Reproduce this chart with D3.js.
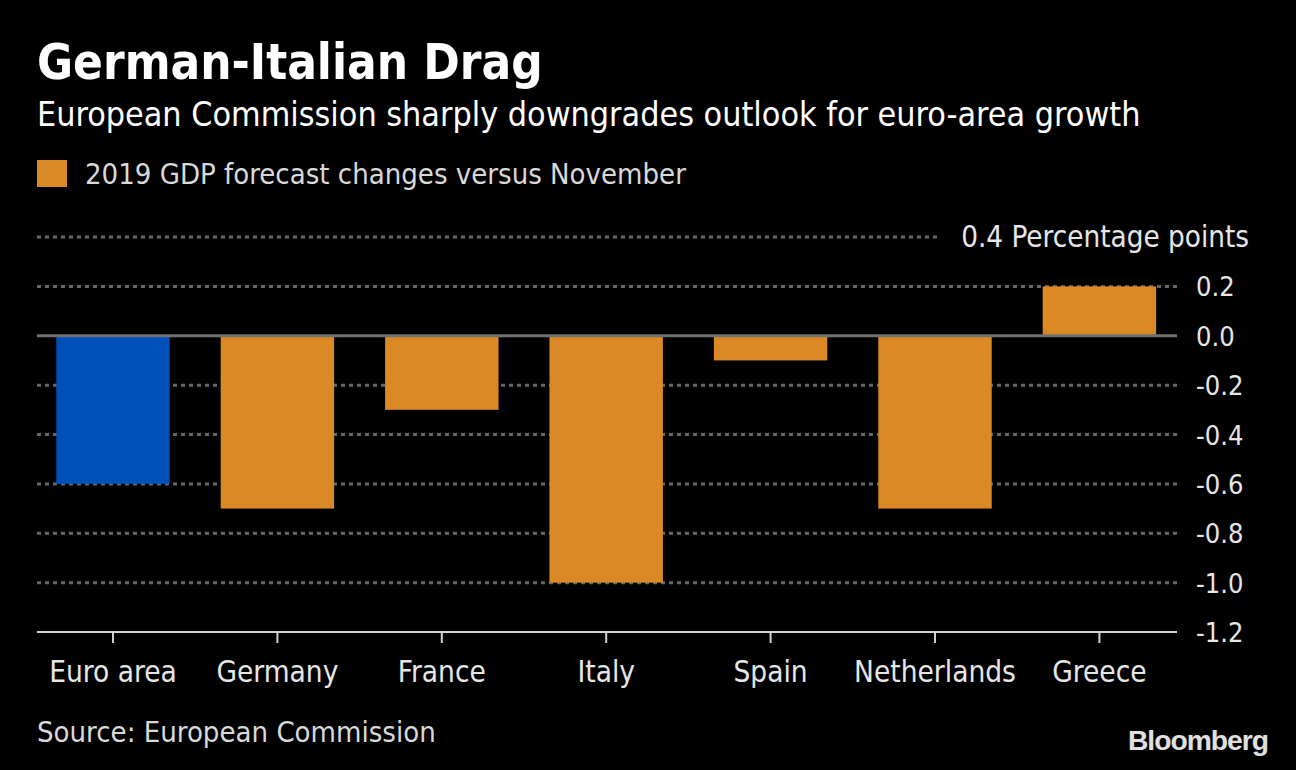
<!DOCTYPE html>
<html><head><meta charset="utf-8">
<script src="https://cdn.jsdelivr.net/npm/d3@7"></script>
<style>html,body{margin:0;padding:0;background:#000;}svg{display:block;}</style>
</head><body>
<svg id="c" width="1296" height="770"></svg>
<script>
const categories = ["Euro area","Germany","France","Italy","Spain","Netherlands","Greece"];
const values = [-0.6,-0.7,-0.3,-1.0,-0.1,-0.7,0.2];
const barColors = ["#0050BA","#DB8925","#DB8925","#DB8925","#DB8925","#DB8925","#DB8925"];
const yTicks = [0.4,0.2,0.0,-0.2,-0.4,-0.6,-0.8,-1.0,-1.2];
const yTickLabels = ["0.4 Percentage points","0.2","0.0","-0.2","-0.4","-0.6","-0.8","-1.0","-1.2"];
const title = "German-Italian Drag";
const subtitle = "European Commission sharply downgrades outlook for euro-area growth";
const legendLabel = "2019 GDP forecast changes versus November";
const source = "Source: European Commission";

const FONT = "'DejaVu Sans Condensed','DejaVu Sans',sans-serif";
const svg = d3.select("#c");
svg.append("rect").attr("width",1296).attr("height",770).attr("fill","#000");

function fit(sel, target){
  const w = sel.node().getBBox().width;
  const fs = parseFloat(sel.attr("font-size"));
  sel.attr("font-size", fs*target/w);
  return sel;
}

const x = d3.scaleBand().domain(categories).range([30.8,1181.6]).paddingInner(0.31).paddingOuter(0.155);
const y = d3.scaleLinear().domain([-1.2,0.4]).range([632,237]);
const L = 37, R = 1177;

// titles
fit(svg.append("text").attr("x",L).attr("y",79).attr("fill","#fff").attr("font-family",FONT)
  .attr("font-weight","bold").attr("font-size",44).text(title), 506);
fit(svg.append("text").attr("x",L).attr("y",126).attr("fill","#fff").attr("font-family",FONT)
  .attr("font-size",32).text(subtitle), 1104);
svg.append("rect").attr("x",L).attr("y",160).attr("width",30).attr("height",27).attr("fill",barColors[1]);
fit(svg.append("text").attr("x",85).attr("y",184).attr("fill","#d9d9d9").attr("font-family",FONT)
  .attr("font-size",28).text(legendLabel), 602);

// gridlines
const grid = svg.append("g");
yTicks.forEach((t,i)=>{
  if (t===0 || t===-1.2) return;
  const x2 = (i===0) ? 940 : R;
  grid.append("line").attr("x1",L).attr("x2",x2).attr("y1",y(t)).attr("y2",y(t))
    .attr("stroke","#666").attr("stroke-width",3).attr("stroke-dasharray","4,4");
});

// bars
svg.append("g").selectAll("rect").data(values).join("rect")
  .attr("x",(d,i)=>x(categories[i]))
  .attr("width",x.bandwidth())
  .attr("y",d=>y(Math.max(0,d)))
  .attr("height",d=>Math.abs(y(d)-y(0)))
  .attr("fill",(d,i)=>barColors[i]);

// zero line
svg.append("line").attr("x1",L).attr("x2",R).attr("y1",y(0)).attr("y2",y(0))
  .attr("stroke","#707070").attr("stroke-width",3);

// y labels
yTicks.forEach((t,i)=>{
  const tx = svg.append("text").attr("y",y(t)+10).attr("fill","#e6e6e6")
    .attr("font-family",FONT).attr("font-size",27).text(yTickLabels[i]);
  if (i===0){ tx.attr("x",1249).attr("text-anchor","end"); fit(tx,288); }
  else tx.attr("x",1196);
});

// x axis
const xAxis = d3.axisBottom(x).tickSize(11).tickPadding(18).tickSizeOuter(0);
const gx = svg.append("g").attr("transform",`translate(0,${y(-1.2)})`).call(xAxis);
gx.select(".domain").attr("d",`M${L},0H${R}`).attr("stroke","#d0d0d0").attr("stroke-width",2);
gx.selectAll(".tick line").attr("stroke","#d0d0d0").attr("stroke-width",2);
gx.selectAll(".tick text").attr("fill","#e6e6e6").attr("font-family",FONT).attr("font-size",29.5);

// source + logo
fit(svg.append("text").attr("x",L).attr("y",742).attr("fill","#d9d9d9").attr("font-family",FONT)
  .attr("font-size",27).text(source), 399);
fit(svg.append("text").attr("x",1268).attr("y",750).attr("text-anchor","end").attr("fill","#e0e0e0")
  .attr("font-family","'Liberation Sans',Arial,sans-serif").attr("font-weight","bold")
  .attr("letter-spacing","-1").attr("font-size",28).text("Bloomberg"), 140);
</script>
</body></html>
